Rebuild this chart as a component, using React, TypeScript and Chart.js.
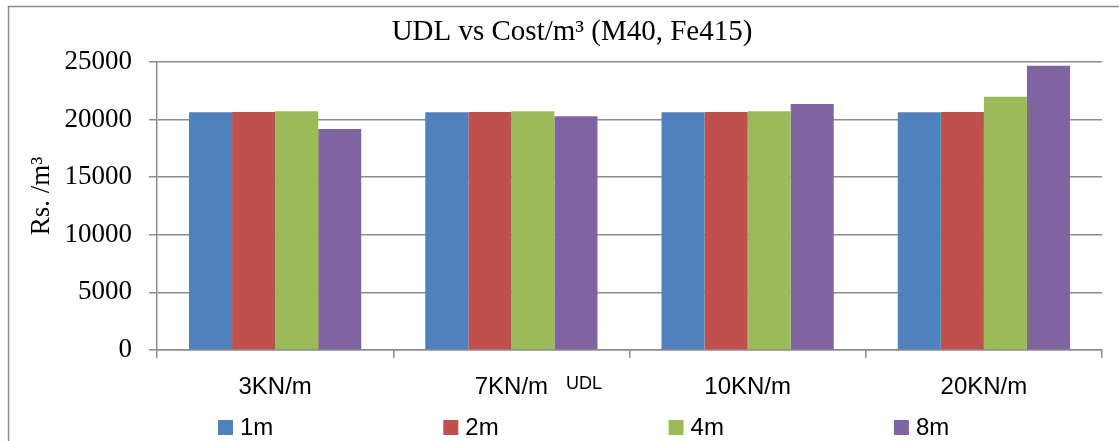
import React, { useEffect, useRef } from 'react';
import { Chart, registerables } from 'chart.js';

Chart.register(...registerables);

const categories = ['3KN/m', '7KN/m', '10KN/m', '20KN/m'];
const seriesLabels = ['1m', '2m', '4m', '8m'];
const values1m = [20630, 20630, 20630, 20630];
const values2m = [20660, 20660, 20660, 20660];
const values4m = [20720, 20720, 20720, 21990];
const values8m = [19180, 20290, 21350, 24680];
const seriesColors = ['#4F81BD', '#C0504D', '#9BBB59', '#8064A2'];
const yMin = 0;
const yMax = 25000;
const yStep = 5000;
const chartTitle = 'UDL vs Cost/m\u00B3 (M40, Fe415)';
const yTitle = 'Rs. /m\u00B3';
const xTitle = 'UDL';

const GRID = '#8c8c8c';

const decor = {
  id: 'decor',
  beforeDraw(chart: any) {
    const ctx = chart.ctx;
    ctx.save();
    ctx.fillStyle = '#ffffff';
    ctx.fillRect(0, 0, chart.width, chart.height);
    ctx.strokeStyle = GRID;
    ctx.lineWidth = 1.5;
    ctx.beginPath();
    ctx.moveTo(8.5, chart.height);
    ctx.lineTo(8.5, 6.5);
    ctx.lineTo(chart.width, 6.5);
    ctx.stroke();
    ctx.restore();
  },
  afterDraw(chart: any) {
    const ctx = chart.ctx;
    ctx.save();
    ctx.fillStyle = '#000';
    ctx.textBaseline = 'middle';
    // title
    ctx.font = '29px "Liberation Serif"';
    ctx.textAlign = 'center';
    ctx.fillText(chartTitle, 572, 32);
    // y title
    ctx.save();
    ctx.translate(42, 196);
    ctx.rotate(-Math.PI / 2);
    ctx.font = '27px "Liberation Serif"';
    ctx.textAlign = 'center';
    ctx.fillText(yTitle, 0, 0);
    ctx.restore();
    // x title
    ctx.font = '18px "Liberation Sans"';
    ctx.textAlign = 'left';
    ctx.fillText(xTitle, 566, 384);
    // legend
    ctx.font = '24px "Liberation Sans"';
    chart.data.datasets.forEach((ds: any, i: number) => {
      const x0 = 218 + i * 225.3;
      ctx.fillStyle = ds.backgroundColor;
      ctx.fillRect(x0, 420, 15, 15);
      ctx.fillStyle = '#000';
      ctx.fillText(ds.label, x0 + 22, 428);
    });
    ctx.restore();
  },
};

export default function App() {
  const ref = useRef<HTMLCanvasElement>(null);
  useEffect(() => {
    if (!ref.current) return;
    const seriesValues = [values1m, values2m, values4m, values8m];
    const chart = new Chart(ref.current, {
      type: 'bar',
      data: {
        labels: categories,
        datasets: seriesLabels.map((l, i) => ({
          label: l,
          data: seriesValues[i],
          backgroundColor: seriesColors[i],
          borderWidth: 0,
          categoryPercentage: 0.729,
          barPercentage: 1,
        })),
      },
      options: {
        responsive: false,
        animation: false,
        events: [],
        layout: { padding: { top: 62, right: 17, bottom: 0, left: 0 } },
        plugins: {
          legend: { display: false },
          title: { display: false },
          tooltip: { enabled: false },
        },
        scales: {
          x: {
            afterFit: (s: any) => { s.height = 91; },
            grid: { offset: true, drawOnChartArea: false, drawTicks: true, tickLength: 8, color: GRID, lineWidth: 1.5 },
            border: { color: GRID, width: 1.5 },
            ticks: { color: '#000', font: { family: '"Liberation Sans"', size: 24 }, padding: 15, maxRotation: 0 },
          },
          y: {
            min: yMin,
            max: yMax,
            afterFit: (s: any) => { s.width = 157; },
            grid: { color: GRID, lineWidth: 1.5, tickLength: 8 },
            border: { color: GRID, width: 1.5 },
            ticks: {
              stepSize: yStep,
              color: '#000',
              font: { family: '"Liberation Serif"', size: 27 },
              padding: 17,
              callback: (v: any) => String(v),
            },
          },
        },
      },
      plugins: [decor],
    });
    return () => chart.destroy();
  }, []);
  return (
    <div style={{ position: 'absolute', left: 0, top: 0, width: 1119, height: 441 }}>
      <canvas ref={ref} width={1119} height={441} style={{ display: 'block' }} />
    </div>
  );
}
